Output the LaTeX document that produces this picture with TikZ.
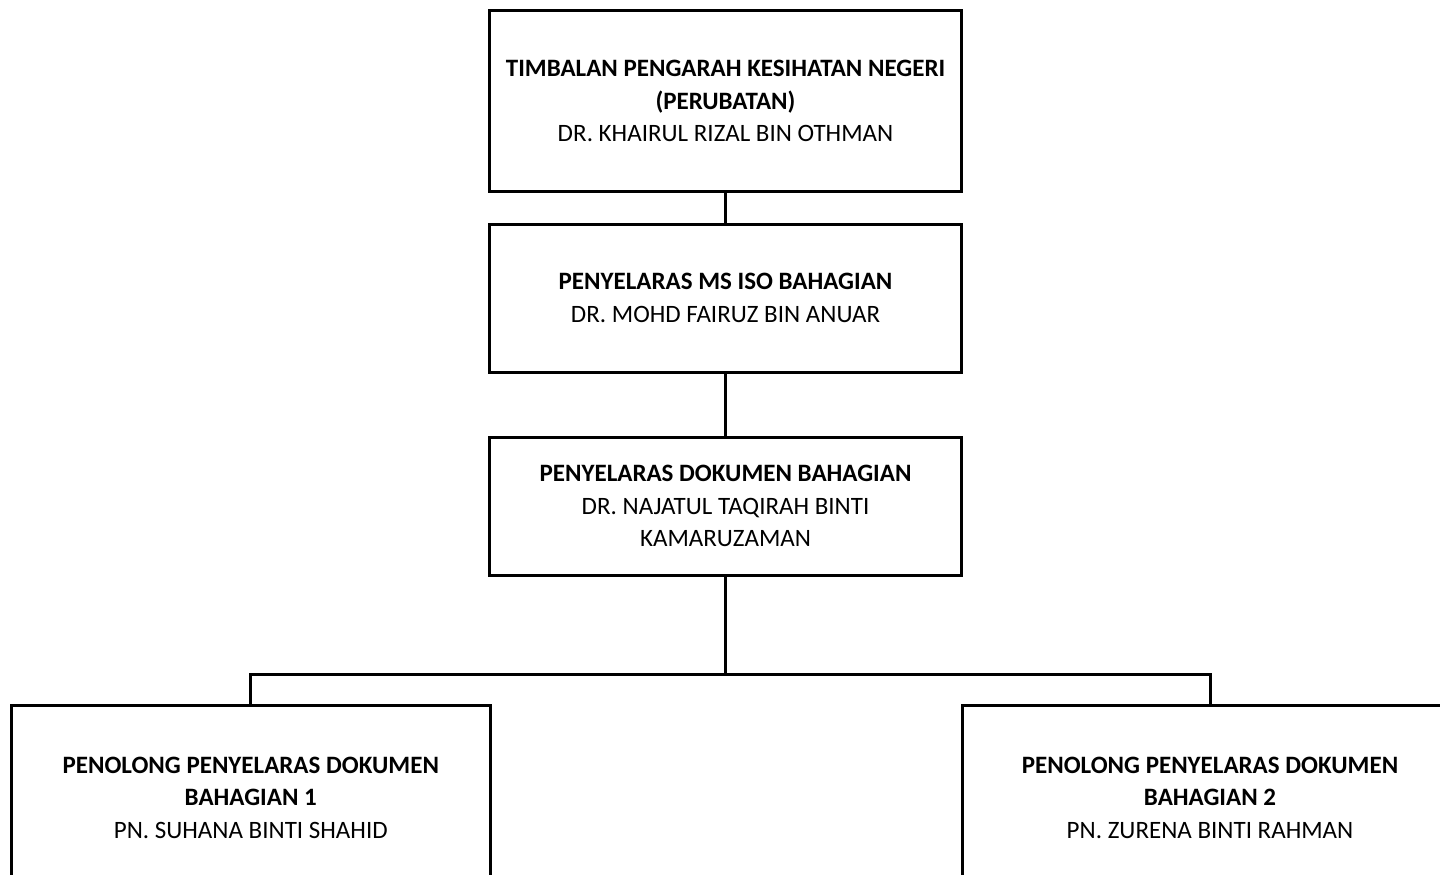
\documentclass[tikz,border=0pt]{standalone}
\usepackage{fontspec}
\setmainfont{Carlito}
\begin{document}
\begin{tikzpicture}[x=1pt,y=-1pt,
  box/.style={draw=black, line width=3pt, rectangle, align=center, inner sep=0pt,
    font=\fontsize{25}{32.5}\selectfont, text=black},
  link/.style={draw=black, line width=3pt}]
\useasboundingbox (0,0) rectangle (1440,875);
\clip (0,0) rectangle (1440,875);
\node[box, minimum width=472pt, minimum height=181pt] (b1) at (725.5,101)
  {\textbf{TIMBALAN PENGARAH KESIHATAN NEGERI}\\\textbf{(PERUBATAN)}\\DR. KHAIRUL RIZAL BIN OTHMAN};
\node[box, minimum width=472pt, minimum height=148pt] (b2) at (725.5,298)
  {\textbf{PENYELARAS MS ISO BAHAGIAN}\\DR. MOHD FAIRUZ BIN ANUAR};
\node[box, minimum width=472pt, minimum height=138pt] (b3) at (725.5,506)
  {\textbf{PENYELARAS DOKUMEN BAHAGIAN}\\DR. NAJATUL TAQIRAH BINTI\\KAMARUZAMAN};
\node[box, minimum width=478.5pt, minimum height=185pt] (b4) at (250.75,797.5)
  {\textbf{PENOLONG PENYELARAS DOKUMEN}\\\textbf{BAHAGIAN 1}\\PN. SUHANA BINTI SHAHID};
\node[box, minimum width=496pt, minimum height=185pt] (b5) at (1210,797.5)
  {\textbf{PENOLONG PENYELARAS DOKUMEN}\\\textbf{BAHAGIAN 2}\\PN. ZURENA BINTI RAHMAN};
\coordinate (j) at (725.5,674);
\draw[link] (b1.south) -- (b2.north);
\draw[link] (b2.south) -- (b3.north);
\draw[link] (b3.south) -- (j);
\draw[link] (b4.north) |- (j) -| (b5.north);
\end{tikzpicture}
\end{document}
